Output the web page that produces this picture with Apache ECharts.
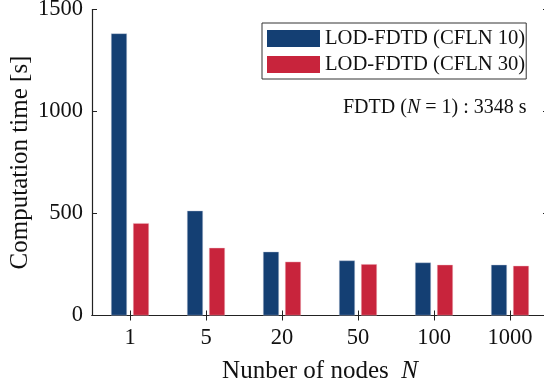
<!DOCTYPE html>
<html><head><meta charset="utf-8">
<script src="https://cdn.jsdelivr.net/npm/echarts@6/dist/echarts.min.js"></script>
<style>html,body{margin:0;padding:0;background:#fff}#c{width:544px;height:387px}</style>
</head><body><div id="c"></div>
<script>
const categories = ['1', '5', '20', '50', '100', '1000'];
const cfln10 = [1383, 514, 313, 270, 260, 249];
const cfln30 = [453, 332, 264, 252, 249, 244];
const seriesNames = ['LOD-FDTD (CFLN 10)', 'LOD-FDTD (CFLN 30)'];
const yTicks = [0, 500, 1000, 1500];

const FONT = '"Liberation Serif", "Times New Roman", serif';
const AX = '#222';
const chart = echarts.init(document.getElementById('c'), null, {renderer: 'canvas'});
const axisCommon = {
  axisLine: {show: true, lineStyle: {color: AX, width: 1.2}},
  axisTick: {show: true, inside: true, length: 5, lineStyle: {color: AX, width: 1}},
  splitLine: {show: false}
};
const catTick = {axisTick: {show: true, inside: true, length: 5, alignWithLabel: true, lineStyle: {color: AX, width: 1}}};
chart.setOption({
  animation: false,
  textStyle: {fontFamily: FONT},
  grid: {left: 92, right: -4, top: 9.5, bottom: 71.5, containLabel: false, outerBoundsMode: 'none'},
  legend: {
    orient: 'vertical', left: 262, top: 23,
    icon: 'rect',
    itemWidth: 53, itemHeight: 17, itemGap: 5,
    padding: [5, 1, 4, 5],
    borderColor: '#333', borderWidth: 1, borderRadius: 0,
    backgroundColor: '#fff',
    textStyle: {fontFamily: FONT, fontSize: 20.6, color: '#111'},
    itemStyle: {borderWidth: 0},
    data: seriesNames
  },
  title: {
    left: 338, top: 93,
    text: '{a|FDTD (}{i|N}{a| = 1) : 3348 s}',
    textStyle: {
      fontWeight: 'normal',
      rich: {
        a: {fontFamily: FONT, fontSize: 20, color: '#111', fontWeight: 'normal'},
        i: {fontFamily: FONT, fontSize: 20, color: '#111', fontStyle: 'italic', fontWeight: 'normal'}
      }
    }
  },
  xAxis: [
    Object.assign({
      type: 'category', data: categories, position: 'bottom',
      name: '{a|Nunber of nodes  }{i|N}', nameLocation: 'middle', nameGap: 43, nameMoveOverlap: false,
      nameTextStyle: {
        rich: {
          a: {fontFamily: FONT, fontSize: 25, color: '#111'},
          i: {fontFamily: FONT, fontSize: 25, color: '#111', fontStyle: 'italic'}
        }
      },
      axisLabel: {fontFamily: FONT, fontSize: 22.5, color: '#111', margin: 11}
    }, axisCommon, catTick),
    Object.assign({
      type: 'category', data: categories, position: 'top',
      axisLabel: {show: false}
    }, axisCommon, catTick)
  ],
  yAxis: [
    Object.assign({
      type: 'value', min: yTicks[0], max: yTicks[yTicks.length - 1], interval: 500,
      position: 'left',
      name: 'Computation time [s]', nameLocation: 'middle', nameGap: 59, nameMoveOverlap: false,
      nameTextStyle: {fontFamily: FONT, fontSize: 25, color: '#111'},
      axisLabel: {fontFamily: FONT, fontSize: 22.5, color: '#111', margin: 9, formatter: v => String(v)}
    }, axisCommon),
    Object.assign({
      type: 'value', min: yTicks[0], max: yTicks[yTicks.length - 1], interval: 500,
      position: 'right', axisLabel: {show: false}
    }, axisCommon)
  ],
  series: [
    {
      name: seriesNames[0], type: 'bar', data: cfln10, xAxisIndex: 0, yAxisIndex: 0,
      barWidth: 16, barGap: '37.5%',
      itemStyle: {color: '#143f73', borderColor: 'rgba(190,200,220,0.7)', borderWidth: 0.6}
    },
    {
      name: seriesNames[1], type: 'bar', data: cfln30, xAxisIndex: 0, yAxisIndex: 0,
      barWidth: 16, barGap: '37.5%',
      itemStyle: {color: '#c8243c', borderColor: 'rgba(240,190,200,0.7)', borderWidth: 0.6}
    }
  ]
});
</script></body></html>
